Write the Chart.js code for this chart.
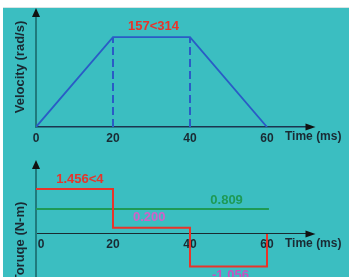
<!DOCTYPE html>
<html>
<head>
<meta charset="utf-8">
<script src="https://cdn.jsdelivr.net/npm/chart.js@4.4.1/dist/chart.umd.min.js"></script>
<style>
    html, body { margin: 0; padding: 0; background: #fff; }
    #bg { position: absolute; left: 3px; top: 7px; width: 346px; height: 270px; background: #3bbec1; border-top: 1px solid #d8e4e4; box-sizing: border-box; }
    canvas { position: absolute; left: 0; }
    #velCanvas { top: 0; }
    #torqueCanvas { top: 150px; }
</style>
</head>
<body>
<div id="bg"></div>
<canvas id="velCanvas" width="349" height="150"></canvas>
<canvas id="torqueCanvas" width="349" height="127"></canvas>
<script>
// Data
const timeTicks = [0, 20, 40, 60];

const velTime = [0, 20, 40, 60];
const velocity = [0, 157, 157, 0];
const velDash1 = [20, 20];
const velDash2 = [40, 40];
const velDashY = [0, 157];

const torqueTime = [0, 20, 40, 60, 60];
const torque = [1.456, 0.200, -1.056, -1.056, 0];
const rmsTime = [0, 60.5];
const rmsTorque = [0.809, 0.809];

Chart.defaults.font.family = '"Liberation Sans", Arial, sans-serif';
Chart.defaults.font.weight = 'bold';

const toPoints = (xs, ys) => xs.map((x, i) => ({ x: x, y: ys[i] }));

// Labels, arrows and axis titles
function overlay(labels, yTitle, titleY, timeY) {
    return {
        id: 'overlay',
        afterDraw(chart) {
            const ctx = chart.ctx;
            const xs = chart.scales.x, ys = chart.scales.y;
            const ax = xs.getPixelForValue(0);
            const ay = ys.getPixelForValue(0);
            const top = chart.chartArea.top;
            const right = chart.chartArea.right;
            ctx.save();
            ctx.fillStyle = '#111';
            // y arrow
            ctx.beginPath();
            ctx.moveTo(ax, top - 8);
            ctx.lineTo(ax - 4, top + 1);
            ctx.lineTo(ax + 4, top + 1);
            ctx.closePath();
            ctx.fill();
            // x arrow
            ctx.beginPath();
            ctx.moveTo(right + 10, ay);
            ctx.lineTo(right, ay - 3.5);
            ctx.lineTo(right, ay + 3.5);
            ctx.closePath();
            ctx.fill();

            ctx.textAlign = 'center';
            ctx.textBaseline = 'middle';
            ctx.font = 'bold 13px "Liberation Sans", Arial, sans-serif';
            labels.forEach(l => {
                ctx.fillStyle = l.color;
                ctx.fillText(l.text, xs.getPixelForValue(l.x), ys.getPixelForValue(l.y) + l.dy);
            });

            ctx.fillStyle = '#1a2a33';
            ctx.font = 'bold 12px "Liberation Sans", Arial, sans-serif';
            ctx.textAlign = 'left';
            ctx.fillText('Time (ms)', 285, ay + timeY);

            ctx.font = 'bold 13px "Liberation Sans", Arial, sans-serif';
            ctx.textAlign = 'center';
            ctx.translate(20, titleY);
            ctx.rotate(-Math.PI / 2);
            ctx.fillText(yTitle, 0, 0);
            ctx.restore();
        }
    };
}

function xScale(borderColor, borderWidth, zeroLabel) {
    return {
        type: 'linear',
        min: 0,
        max: 70,
        position: { y: 0 },
        grid: { display: false, drawTicks: false },
        border: { display: true, color: borderColor, width: borderWidth },
        afterBuildTicks: s => { s.ticks = timeTicks.map(v => ({ value: v })); },
        ticks: {
            padding: 4,
            color: '#1a2a33',
            font: { size: 12, weight: 'bold' },
            callback: v => (v === 0 ? zeroLabel : String(v))
        }
    };
}

function yScale(min, max) {
    return {
        type: 'linear',
        min: min,
        max: max,
        position: { x: 0 },
        grid: { display: false, drawTicks: false },
        border: { display: true, color: '#1f7a7d', width: 2 },
        ticks: { display: false }
    };
}

// Velocity profile
new Chart(document.getElementById('velCanvas').getContext('2d'), {
    type: 'line',
    data: {
        datasets: [{
            data: toPoints(velTime, velocity),
            borderColor: '#2a5cc6',
            borderWidth: 1.8
        }, {
            data: toPoints(velDash1, velDashY),
            borderColor: '#2a5cc6',
            borderWidth: 2,
            borderDash: [8, 4]
        }, {
            data: toPoints(velDash2, velDashY),
            borderColor: '#2a5cc6',
            borderWidth: 2,
            borderDash: [8, 4]
        }]
    },
    options: {
        responsive: false,
        animation: false,
        layout: { padding: { left: 36, right: 43.5, top: 16, bottom: 23 } },
        elements: { point: { radius: 0 }, line: { tension: 0 } },
        plugins: { legend: { display: false }, tooltip: { enabled: false } },
        scales: { x: xScale('#1b3550', 1.5, '0'), y: yScale(0, 194) }
    },
    plugins: [overlay([
        { text: '157<314', x: 30.5, y: 157, dy: -11, color: '#e8342a' }
    ], 'Velocity (rad/s)', 67, 10)]
});

// Torque profile
new Chart(document.getElementById('torqueCanvas').getContext('2d'), {
    type: 'line',
    data: {
        datasets: [{
            data: toPoints(torqueTime, torque),
            borderColor: '#e8342a',
            borderWidth: 2,
            stepped: true
        }, {
            data: toPoints(rmsTime, rmsTorque),
            borderColor: '#1e9a55',
            borderWidth: 2
        }]
    },
    options: {
        responsive: false,
        animation: false,
        layout: { padding: { left: 36, right: 43.5, top: 18, bottom: 0 } },
        elements: { point: { radius: 0 }, line: { tension: 0 } },
        plugins: { legend: { display: false }, tooltip: { enabled: false } },
        scales: { x: xScale('#1a2a30', 1, '   0'), y: yScale(-1.4, 2.14) }
    },
    plugins: [overlay([
        { text: '1.456<4', x: 11.4, y: 1.456, dy: -10, color: '#e8342a' },
        { text: '0.200', x: 29.4, y: 0.2, dy: -10, color: '#d360c8' },
        { text: '0.809', x: 49.5, y: 0.809, dy: -9, color: '#1e9a55' },
        { text: '-1.056', x: 50.5, y: -1.056, dy: 9, color: '#c850c0' }
    ], 'Toruqe (N-m)', 92, 10)]
});
</script>
</body>
</html>
